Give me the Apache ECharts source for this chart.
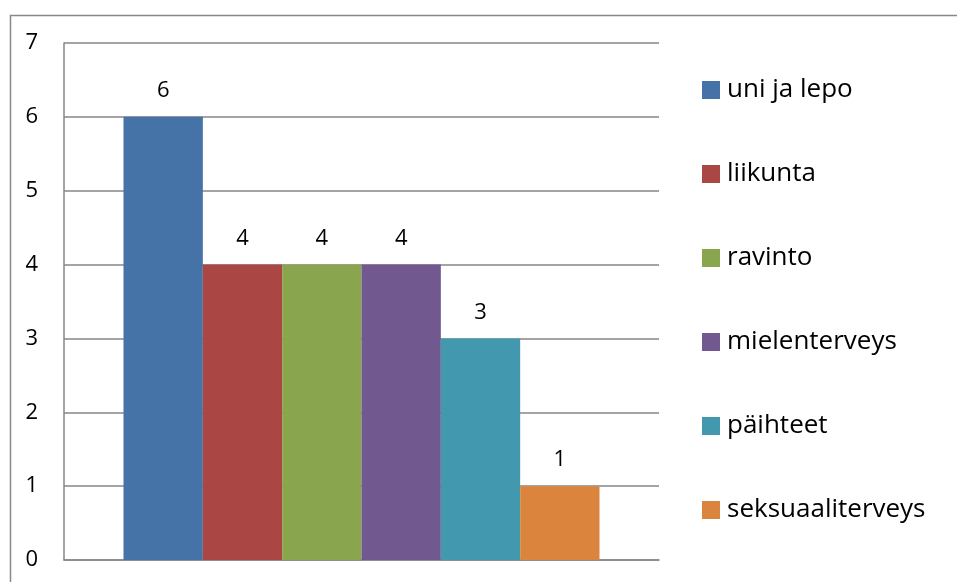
<!DOCTYPE html>
<html>
<head>
<meta charset="utf-8">
<script src="https://cdn.jsdelivr.net/npm/echarts@6/dist/echarts.min.js"></script>
<style>
html,body{margin:0;padding:0;background:#fff;}
#c{width:957px;height:582px;}
</style>
</head>
<body>
<div id="c"></div>
<script>
const seriesNames = ['uni ja lepo', 'liikunta', 'ravinto', 'mielenterveys', 'päihteet', 'seksuaaliterveys'];
const seriesValues = [6, 4, 4, 4, 3, 1];
const seriesColors = ['#4572A7', '#AA4643', '#89A54E', '#71588F', '#4198AF', '#DB843D'];
const categories = [''];
const yTicks = [0, 1, 2, 3, 4, 5, 6, 7];

const font = 'Open Sans, Liberation Sans, sans-serif';
const chart = echarts.init(document.getElementById('c'), null, {renderer: 'canvas'});
chart.setOption({
  animation: false,
  backgroundColor: '#fff',
  graphic: [{
    type: 'rect', left: 8, top: 13, z: -1,
    shape: {width: 1000, height: 700},
    style: {fill: 'none', stroke: '#888', lineWidth: 1.5}
  }],
  grid: {left: 64, top: 43, right: 298, bottom: 22, containLabel: false},
  legend: {
    orient: 'vertical',
    left: 702, top: 77,
    padding: 0,
    itemWidth: 18, itemHeight: 18,
    itemGap: 58,
    icon: 'rect',
    data: seriesNames,
    textStyle: {fontFamily: font, fontSize: 26, color: '#000', padding: [0,0,0,2], lineHeight: 26}
  },
  xAxis: {
    type: 'category',
    data: categories,
    axisTick: {show: false},
    axisLabel: {show: false},
    axisLine: {lineStyle: {color: '#868686', width: 1.5}}
  },
  yAxis: {
    type: 'value',
    min: yTicks[0], max: yTicks[yTicks.length - 1], interval: 1,
    axisLine: {show: true, lineStyle: {color: '#868686', width: 1.5}},
    axisTick: {show: false},
    splitLine: {lineStyle: {color: '#868686', width: 1.5}},
    axisLabel: {fontFamily: font, fontSize: 22, color: '#000', margin: 26}
  },
  series: seriesNames.map((n, i) => ({
    name: n,
    type: 'bar',
    data: [seriesValues[i]],
    itemStyle: {color: seriesColors[i]},
    barGap: '0%',
    barCategoryGap: '20%',
    label: {show: true, position: 'top', distance: 15, fontFamily: font, fontSize: 22, color: '#000'}
  }))
});
</script>
</body>
</html>
